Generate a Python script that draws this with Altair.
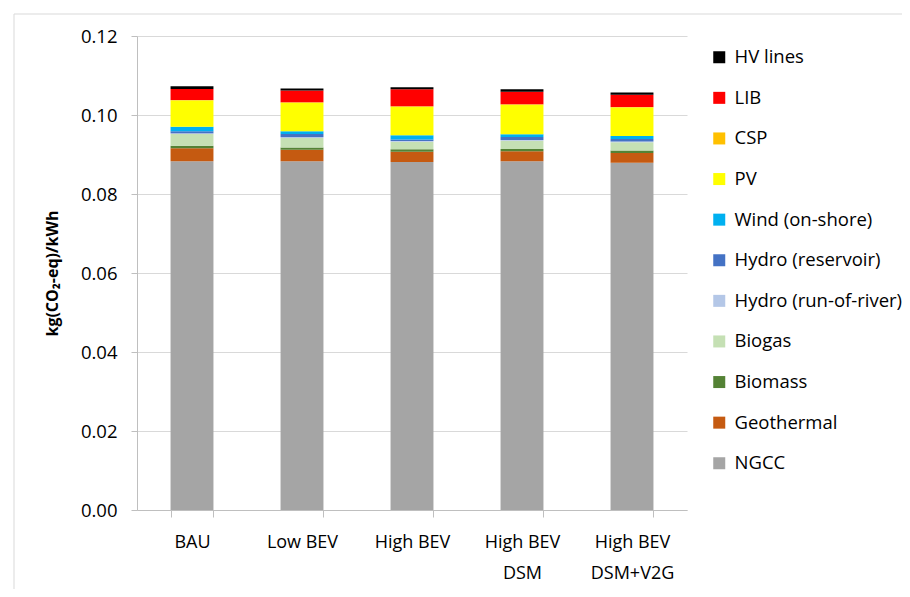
import altair as alt
import pandas as pd

scenarios = ["BAU", "Low BEV", "High BEV", "High BEV\nDSM", "High BEV\nDSM+V2G"]

# technologies from bottom of stack to top
techs = ["NGCC", "Geothermal", "Biomass", "Biogas", "Hydro (run-of-river)",
         "Hydro (reservoir)", "Wind (on-shore)", "PV", "CSP", "LIB", "HV lines"]
colors = ["#A5A5A5", "#C55A11", "#548235", "#C5E0B4", "#B4C7E7",
          "#4472C4", "#00B0F0", "#FFFF00", "#FFC000", "#FF0000", "#000000"]

ngcc = [0.0883, 0.0883, 0.0881, 0.0883, 0.0879]
geothermal = [0.0033, 0.0029, 0.0026, 0.0025, 0.0025]
biomass = [0.0006, 0.0006, 0.0006, 0.0006, 0.0006]
biogas = [0.0030, 0.0024, 0.0019, 0.0021, 0.0021]
hydro_ror = [0.0002, 0.0002, 0.0002, 0.0002, 0.0002]
hydro_res = [0.0005, 0.0008, 0.0004, 0.0007, 0.0006]
wind = [0.0011, 0.0007, 0.0011, 0.0007, 0.0008]
pv = [0.0067, 0.0072, 0.0072, 0.0075, 0.0072]
csp = [0.0001, 0.0001, 0.0001, 0.0001, 0.0001]
lib = [0.0028, 0.0030, 0.0043, 0.0032, 0.0031]
hv = [0.0007, 0.0005, 0.0005, 0.0006, 0.0006]

series = [ngcc, geothermal, biomass, biogas, hydro_ror, hydro_res, wind, pv, csp, lib, hv]

rows = []
for ti, (t, vals) in enumerate(zip(techs, series)):
    for s, v in zip(scenarios, vals):
        rows.append({"scenario": s, "tech": t, "value": v, "order": ti})
df = pd.DataFrame(rows)

legend_order = techs[::-1]
legend_colors = colors[::-1]

FONT = "Open Sans"

bars = alt.Chart(df).mark_bar().encode(
    x=alt.X("scenario:N", sort=scenarios,
            scale=alt.Scale(paddingInner=0.61, paddingOuter=0.305),
            axis=alt.Axis(title=None, labelAngle=0, labelExpr="split(datum.label, '\\n')",
                          labelFontSize=18, labelFont=FONT, labelColor="#000000",
                          labelPadding=25, labelLineHeight=31, labelBaseline="middle",
                          tickBand="extent", tickSize=7, tickColor="#BFBFBF",
                          domainColor="#BFBFBF", grid=False, gridOpacity=0,
                          gridColor="transparent", gridWidth=0)),
    y=alt.Y("value:Q", stack="zero",
            scale=alt.Scale(domain=[0, 0.12], nice=False),
            axis=alt.Axis(title="kg(CO\u2082-eq)/kWh", titleFont=FONT, titleFontSize=16,
                          titleFontWeight="bold", titlePadding=20, titleColor="#000000",
                          values=[0, 0.02, 0.04, 0.06, 0.08, 0.10, 0.12], format=".2f",
                          labelFontSize=18.5, labelFont=FONT, labelColor="#000000",
                          labelPadding=14, tickSize=6, tickColor="#BFBFBF",
                          domainColor="#BFBFBF", gridColor="#D9D9D9")),
    color=alt.Color("tech:N",
                    scale=alt.Scale(domain=legend_order, range=legend_colors),
                    legend=alt.Legend(title=None, orient="none", legendX=573, legendY=12,
                                      symbolType="square", symbolSize=144,
                                      symbolStrokeWidth=0,
                                      labelFontSize=18.5, labelFont=FONT, labelColor="#000000",
                                      labelOffset=6, rowPadding=21.6, labelLimit=300)),
    order=alt.Order("order:Q", sort="ascending"),
)

frame = alt.Chart(alt.Data(values=[{"a": 1}])).mark_rect(
    fill=None, stroke="#D9D9D9", strokeWidth=1, clip=False
).encode(
    x=alt.value(-123), y=alt.value(-22), x2=alt.value(900), y2=alt.value(600)
)

chart = alt.layer(bars, frame).properties(
    width=550, height=474,
    background="white",
    autosize=alt.AutoSizeParams(type="none"),
    padding={"left": 129, "top": 28, "right": 215, "bottom": 79},
).configure_view(stroke="transparent", strokeWidth=0)

chart.save("out.html", embed_options={"renderer": "svg", "actions": False})
